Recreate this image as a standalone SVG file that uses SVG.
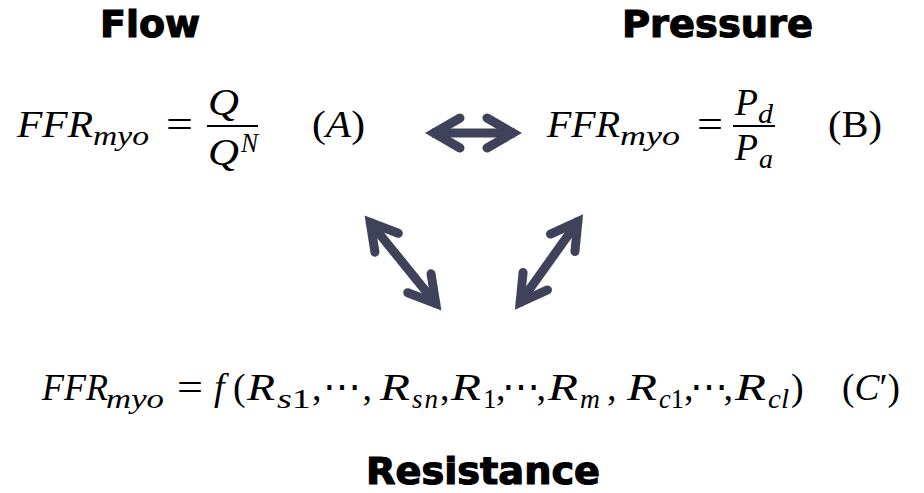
<svg xmlns="http://www.w3.org/2000/svg" width="924" height="493" viewBox="0 0 924 493">
<style>
.t{font-family:"DejaVu Sans","Liberation Sans",sans-serif;font-weight:bold;font-size:38px;fill:#000;stroke:#000;stroke-width:1.2px}
.m{font-family:"Liberation Serif","DejaVu Serif",serif;font-size:38px;fill:#000}
.i{font-style:italic}
.s{font-size:27px}
.ln{stroke:#000;stroke-width:2}
.ar{stroke:#40415a;stroke-width:9;fill:none;marker-start:url(#ah);marker-end:url(#ah)}
</style>
<defs>
<marker id="ah" viewBox="-45 -25 60 50" refX="0" refY="0" markerWidth="60" markerHeight="50" markerUnits="userSpaceOnUse" orient="auto-start-reverse">
<path d="M-28,-15 L-2,0 L-28,15" fill="none" stroke="#40415a" stroke-width="9" stroke-linecap="round" stroke-linejoin="miter"/>
</marker>
</defs>
<rect width="924" height="493" fill="#fff"/>
<g id="flow">
<text class="t" x="100" y="37" textLength="100" lengthAdjust="spacingAndGlyphs">Flow</text>
<g id="eqA">
<text class="m i" x="17" y="137" textLength="76" lengthAdjust="spacingAndGlyphs">FFR</text>
<text class="m i s" x="93" y="145" textLength="56" lengthAdjust="spacingAndGlyphs">myo</text>
<text class="m" x="166" y="137" textLength="27" lengthAdjust="spacingAndGlyphs">=</text>
<text class="m i" x="208" y="115" textLength="31" lengthAdjust="spacingAndGlyphs">Q</text>
<line class="ln" x1="207" y1="126" x2="258" y2="126"/>
<text class="m i" x="208" y="165" textLength="31" lengthAdjust="spacingAndGlyphs">Q</text>
<text class="m i s" x="241" y="152" textLength="17" lengthAdjust="spacingAndGlyphs">N</text>
<text class="m" x="312" y="137" textLength="53" lengthAdjust="spacingAndGlyphs">(<tspan class="i">A</tspan>)</text>
</g>
</g>
<g id="pressure">
<text class="t" x="622" y="37" textLength="191" lengthAdjust="spacingAndGlyphs">Pressure</text>
<g id="eqB">
<text class="m i" x="547" y="137" textLength="73" lengthAdjust="spacingAndGlyphs">FFR</text>
<text class="m i s" x="620" y="145" textLength="60" lengthAdjust="spacingAndGlyphs">myo</text>
<text class="m" x="697" y="137" textLength="26" lengthAdjust="spacingAndGlyphs">=</text>
<text class="m i" x="735" y="115" textLength="23" lengthAdjust="spacingAndGlyphs">P</text>
<text class="m i s" x="758" y="123" textLength="15" lengthAdjust="spacingAndGlyphs">d</text>
<line class="ln" x1="733" y1="126" x2="775" y2="126"/>
<text class="m i" x="735" y="160" textLength="23" lengthAdjust="spacingAndGlyphs">P</text>
<text class="m i s" x="759" y="168" textLength="14" lengthAdjust="spacingAndGlyphs">a</text>
<text class="m" x="828" y="137" textLength="54" lengthAdjust="spacingAndGlyphs">(B)</text>
</g>
</g>
<g id="resistance">
<text class="t" x="366" y="484" textLength="234" lengthAdjust="spacingAndGlyphs">Resistance</text>
<g id="eqC">
<text class="m i" x="42" y="400" textLength="66" lengthAdjust="spacingAndGlyphs">FFR</text>
<text class="m i s" x="106" y="408" textLength="58" lengthAdjust="spacingAndGlyphs">myo</text>
<text class="m" x="177" y="400" textLength="26" lengthAdjust="spacingAndGlyphs">=</text>
<text class="m i" x="214" y="400">f</text>
<text class="m" x="233" y="400">(</text>
<text class="m i" x="247" y="400" textLength="28" lengthAdjust="spacingAndGlyphs">R</text>
<text class="m i s" x="277" y="408" textLength="34" lengthAdjust="spacingAndGlyphs">s<tspan font-style="normal">1</tspan></text>
<text class="m" x="312" y="400" textLength="60" lengthAdjust="spacing">,⋯,</text>
<text class="m i" x="380" y="400" textLength="30" lengthAdjust="spacingAndGlyphs">R</text>
<text class="m i s" x="412" y="408" textLength="26" lengthAdjust="spacing">sn</text>
<text class="m" x="440" y="400">,</text>
<text class="m i" x="451" y="400" textLength="30" lengthAdjust="spacingAndGlyphs">R</text>
<text class="m s" x="483" y="408">1</text>
<text class="m" x="496" y="400" textLength="50" lengthAdjust="spacing">,⋯,</text>
<text class="m i" x="548" y="400" textLength="30" lengthAdjust="spacingAndGlyphs">R</text>
<text class="m i s" x="580" y="408" textLength="20" lengthAdjust="spacingAndGlyphs">m</text>
<text class="m" x="607" y="400">,</text>
<text class="m i" x="627" y="400" textLength="30" lengthAdjust="spacingAndGlyphs">R</text>
<text class="m i s" x="659" y="408" textLength="25" lengthAdjust="spacingAndGlyphs">c<tspan font-style="normal">1</tspan></text>
<text class="m" x="684" y="400" textLength="49" lengthAdjust="spacing">,⋯,</text>
<text class="m i" x="735" y="400" textLength="31" lengthAdjust="spacingAndGlyphs">R</text>
<text class="m i s" x="768" y="408" textLength="21" lengthAdjust="spacingAndGlyphs">cl</text>
<text class="m" x="791" y="400">)</text>
<text class="m" x="842" y="400" textLength="58" lengthAdjust="spacingAndGlyphs">(<tspan class="i">C</tspan>′)</text>
</g>
</g>
<g id="connectors">
<line class="ar" x1="432" y1="133" x2="515" y2="133"/>
<line class="ar" x1="369" y1="221" x2="437" y2="305"/>
<line class="ar" x1="579" y1="220" x2="519" y2="304"/>
</g>
</svg>
